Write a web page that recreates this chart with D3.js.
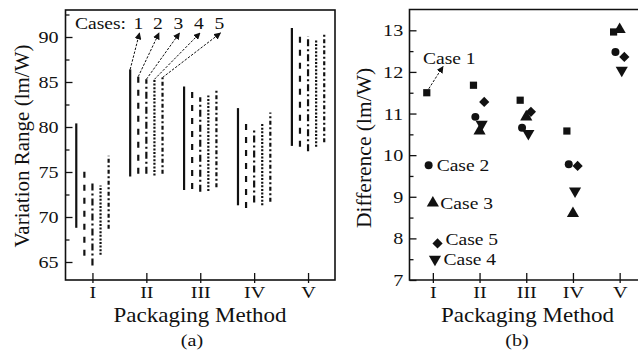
<!DOCTYPE html>
<html>
<head>
<meta charset="utf-8">
<script src="https://cdn.jsdelivr.net/npm/d3@7"></script>
<style>
  body { margin: 0; background: #fff; }
</style>
</head>
<body>
<svg id="chart" width="638" height="358" font-family="'Liberation Serif', 'DejaVu Serif', serif"></svg>
<script>
// packaging methods on the x axis
const methods = ["I", "II", "III", "IV", "V"];
const cases = ["Case 1", "Case 2", "Case 3", "Case 4", "Case 5"];

// (a) variation range, lm/W : [low, high] per method
const range1 = [[68.8, 80.4], [74.5, 86.4], [73.0, 84.5], [71.3, 82.1], [77.9, 91.0]];
const range2 = [[65.7, 75.6], [74.8, 85.6], [73.1, 83.9], [71.0, 80.7], [77.8, 90.5]];
const range3 = [[64.6, 73.9], [74.8, 85.3], [72.8, 83.3], [71.6, 79.9], [77.3, 90.1]];
const range4 = [[65.8, 73.5], [74.6, 85.3], [72.9, 83.5], [71.3, 80.4], [77.8, 89.8]];
const range5 = [[68.7, 76.8], [74.8, 85.5], [73.3, 84.2], [71.7, 81.6], [78.3, 90.5]];

// (b) difference, lm/W
const diff1 = [11.5, 11.68, 11.32, 10.58, 12.96];
const diff2 = [9.76, 10.92, 10.66, 9.78, 12.48];
const diff3 = [8.85, 10.58, 10.92, 8.6, 13.02];
const diff4 = [7.5, 10.74, 10.52, 9.14, 12.04];
const diff5 = [7.88, 11.28, 11.04, 9.74, 12.36];

const ticksA = [65, 70, 75, 80, 85, 90];
const ticksB = [7, 8, 9, 10, 11, 12, 13];

const FONT = "'Liberation Serif', 'DejaVu Serif', serif";
const INK = "#111";
const SX = 1.15; // the printed type is a bit wider than Times

const svg = d3.select("#chart");
svg.append("rect").attr("width", 638).attr("height", 358).attr("fill", "#fff");

const defs = svg.append("defs");
defs.append("marker")
  .attr("id", "arr")
  .attr("viewBox", "0 0 10 10")
  .attr("refX", 9).attr("refY", 5)
  .attr("markerWidth", 7).attr("markerHeight", 7)
  .attr("markerUnits", "userSpaceOnUse")
  .attr("orient", "auto")
  .append("path").attr("d", "M0,0L10,5L0,10z").attr("fill", INK);

// horizontal label helper
const label = (g, x, y, txt, size, anchor) =>
  g.append("text")
    .attr("transform", "translate(" + x + "," + y + ") scale(" + SX + ",1)")
    .attr("text-anchor", anchor || "start")
    .attr("font-size", size)
    .text(txt);

const idx = d3.range(1, 6);

// ---------- panel (a) ----------
const xA = d3.scaleLinear().domain([0.5, 5.5]).range([65.5, 335]);
const yA = d3.scaleLinear().domain([63, 93]).range([280, 10]);
const ranges = [range1, range2, range3, range4, range5];
const offA = [-0.3, -0.15, 0, 0.15, 0.3];
const dashes = [null, "6,7", "7,3,2,3", "2,1.6", "4,2.5,2,2.5"];

const gA = svg.append("g");

ranges.forEach((r, c) => {
  gA.selectAll(".r" + c)
    .data(r)
    .enter()
    .append("line")
    .attr("x1", (d, i) => xA(idx[i] + offA[c]))
    .attr("x2", (d, i) => xA(idx[i] + offA[c]))
    .attr("y1", d => yA(d[0]))
    .attr("y2", d => yA(d[1]))
    .attr("stroke", INK)
    .attr("stroke-width", 2.2)
    .attr("stroke-dasharray", dashes[c]);
});

// axes (a)
gA.append("g").attr("transform", "translate(65.5,0)")
  .call(d3.axisLeft(yA).tickValues(ticksA).tickSize(-7).tickPadding(6).tickFormat(d3.format("d")));
gA.append("g").attr("transform", "translate(65.5,0)")
  .call(d3.axisLeft(yA).tickValues(d3.range(67.5, 93, 5)).tickSize(-4).tickFormat(""));
const axBotA = gA.append("g").attr("transform", "translate(0,280)")
  .call(d3.axisBottom(xA).tickValues(idx).tickFormat((d, i) => methods[i]).tickSize(3).tickPadding(3));
axBotA.selectAll(".tick line").attr("y1", -7).attr("y2", 3);

gA.selectAll(".domain").remove();
gA.selectAll(".tick line").attr("stroke", INK).attr("stroke-width", 1.3);

gA.append("rect")
  .attr("x", 65.5).attr("y", 10)
  .attr("width", 335 - 65.5).attr("height", 270)
  .attr("fill", "none").attr("stroke", INK).attr("stroke-width", 1.6);

gA.append("text")
  .attr("transform", "translate(28.5,146) rotate(-90)")
  .attr("text-anchor", "middle")
  .attr("font-size", 21)
  .text("Variation Range (lm/W)");
label(gA, 200, 322, "Packaging Method", 20, "middle");
label(gA, 192, 346, "(a)", 17.5, "middle");

// "Cases: 1 2 3 4 5" label with arrows to method II
label(gA, 75, 28.5, "Cases:", 17);
const numX = [138.5, 158, 178.5, 199, 219.5];
idx.forEach((d, i) => label(gA, numX[i], 28.5, d, 17, "middle"));
gA.selectAll(".arrA")
  .data(ranges)
  .enter()
  .append("line")
  .attr("x1", (d, c) => xA(2 + offA[c]))
  .attr("y1", d => yA(d[1][1]))
  .attr("x2", (d, c) => numX[c] + 1)
  .attr("y2", 33)
  .attr("stroke", INK)
  .attr("stroke-width", 1)
  .attr("stroke-dasharray", "2.5,1.5")
  .attr("marker-end", "url(#arr)");

// ---------- panel (b) ----------
const xB = d3.scaleLinear().domain([0.5, 5.5]).range([409.5, 643]);
const yB = d3.scaleLinear().domain([7, 13.5]).range([280, 9.5]);
const diffs = [diff1, diff2, diff3, diff4, diff5];
const offB = [-0.13, -0.09, 0, 0.045, 0.1];
const shapes = [
  { type: d3.symbolSquare, size: 52, rot: 0 },
  { type: d3.symbolCircle, size: 50, rot: 0 },
  { type: d3.symbolTriangle, size: 64, rot: 0 },
  { type: d3.symbolTriangle, size: 64, rot: 180 },
  { type: d3.symbolSquare, size: 52, rot: 45 }
];

const gB = svg.append("g");

diffs.forEach((v, c) => {
  gB.selectAll(".p" + c)
    .data(v)
    .enter()
    .append("path")
    .attr("d", d3.symbol().type(shapes[c].type).size(shapes[c].size))
    .attr("transform", (d, i) => "translate(" + xB(idx[i] + offB[c]) + "," + yB(d) + ") rotate(" + shapes[c].rot + ")")
    .attr("fill", INK);
});

gB.append("g").attr("transform", "translate(409.5,0)")
  .call(d3.axisLeft(yB).tickValues(ticksB).tickSize(-7).tickPadding(5.5).tickFormat(d3.format("d")));
gB.append("g").attr("transform", "translate(409.5,0)")
  .call(d3.axisLeft(yB).tickValues(d3.range(7.5, 13.5, 1)).tickSize(-4).tickFormat(""));
const axBotB = gB.append("g").attr("transform", "translate(0,280)")
  .call(d3.axisBottom(xB).tickValues(idx).tickFormat((d, i) => methods[i]).tickSize(3).tickPadding(3));
axBotB.selectAll(".tick line").attr("y1", -7).attr("y2", 3);
gB.selectAll(".domain").remove();
gB.selectAll(".tick line").attr("stroke", INK).attr("stroke-width", 1.3);

gB.append("path")
  .attr("d", "M643,9.5H409.5V280H643")
  .attr("fill", "none").attr("stroke", INK).attr("stroke-width", 1.6);

gB.append("text")
  .attr("transform", "translate(371,148) rotate(-90)")
  .attr("text-anchor", "middle")
  .attr("font-size", 21.5)
  .text("Difference (lm/W)");
label(gB, 527.5, 322, "Packaging Method", 20, "middle");
label(gB, 517, 346, "(b)", 17.5, "middle");

// direct labels next to the method I points
label(gB, 423, 63.5, cases[0], 17);
gB.append("line")
  .attr("x1", xB(1 + offB[0]) + 2).attr("y1", yB(diff1[0]) - 4)
  .attr("x2", 443).attr("y2", 66.5)
  .attr("stroke", INK).attr("stroke-width", 1)
  .attr("stroke-dasharray", "2.5,1.5")
  .attr("marker-end", "url(#arr)");

const lbl = [
  { c: 1, dx: 8, dy: 0 },
  { c: 2, dx: 7.5, dy: 0 },
  { c: 4, dx: 8, dy: -4 },
  { c: 3, dx: 8.5, dy: 0 }
];
lbl.forEach(d => {
  label(gB, xB(1 + offB[d.c]) + d.dx, yB(diffs[d.c][0]) + d.dy, cases[d.c], 17)
    .attr("dy", "0.35em");
});

// every text in one serif face and ink, including the axis labels
svg.selectAll("g").attr("font-family", FONT);
svg.selectAll("text").attr("font-family", FONT).attr("fill", INK);
svg.selectAll(".tick text").attr("font-size", 17.5).attr("transform", "scale(" + SX + ",1)");
</script>
</body>
</html>
